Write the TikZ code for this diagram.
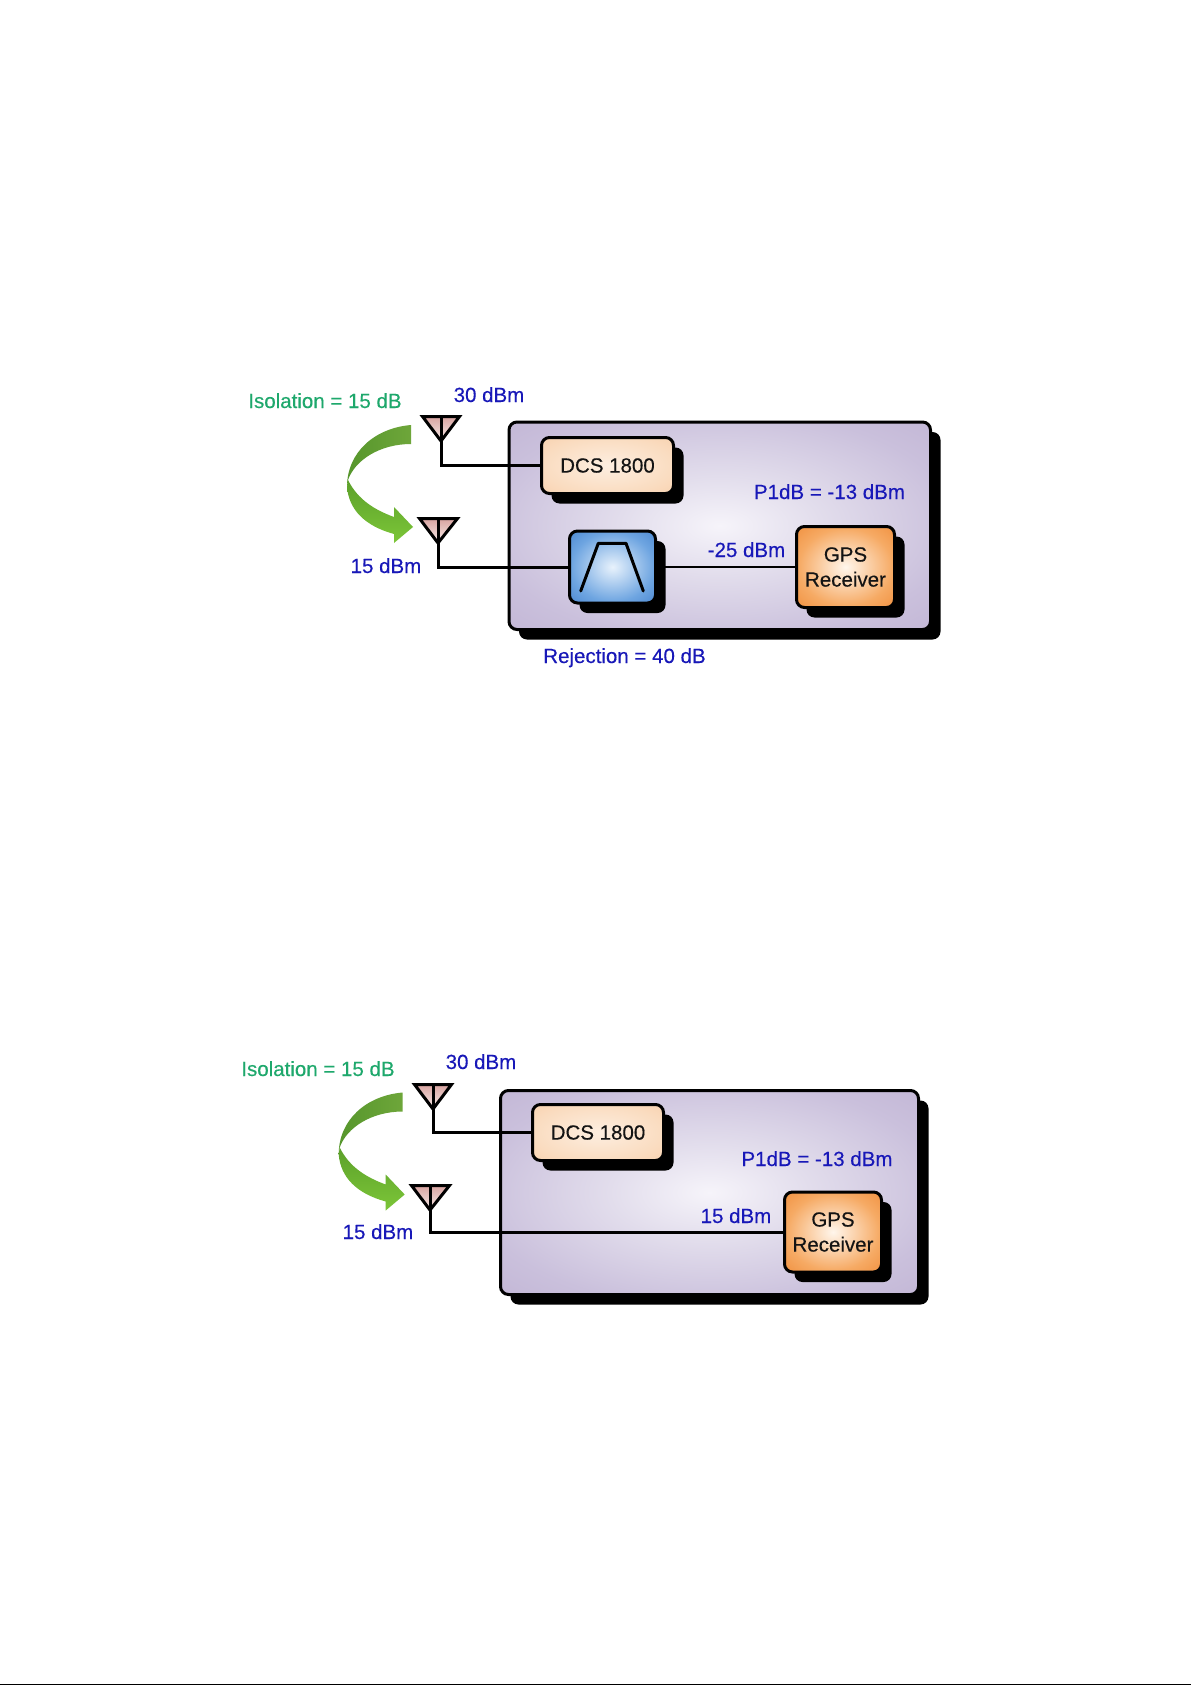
\documentclass[tikz,border=0pt]{standalone}
\usepackage{fontspec}
\setmainfont{Liberation Sans}
\newfontfamily\diagramfont[RawFeature={embolden=0.3}]{Liberation Sans}
\usetikzlibrary{shadows}
\definecolor{labelblue}{RGB}{24,24,184}
\definecolor{isogreen}{RGB}{30,168,108}
\definecolor{inkblack}{RGB}{20,20,20}
\definecolor{lilac0}{RGB}{246,244,250}
\definecolor{lilac1}{RGB}{226,221,236}
\definecolor{lilac2}{RGB}{202,192,220}
\definecolor{lilac3}{RGB}{188,174,208}
\definecolor{peach0}{RGB}{253,238,224}
\definecolor{peach1}{RGB}{250,220,192}
\definecolor{peach2}{RGB}{247,198,156}
\definecolor{orange0}{RGB}{255,246,236}
\definecolor{orange1}{RGB}{246,170,100}
\definecolor{orange2}{RGB}{236,124,34}
\definecolor{blue0}{RGB}{232,242,252}
\definecolor{blue1}{RGB}{110,165,225}
\definecolor{blue2}{RGB}{48,112,196}
\definecolor{antTop}{RGB}{216,164,160}
\definecolor{antBottom}{RGB}{248,236,234}
\definecolor{arrowDarkA}{RGB}{86,150,44}
\definecolor{arrowDarkB}{RGB}{110,166,58}
\definecolor{arrowLightA}{RGB}{92,160,42}
\definecolor{arrowLightB}{RGB}{124,198,56}
\pgfdeclareradialshading{lilacglow}{\pgfpointorigin}{color(0bp)=(lilac0);color(12bp)=(lilac1);color(28bp)=(lilac2);color(44bp)=(lilac3);color(75bp)=(lilac3)}
\pgfdeclareradialshading{peachglow}{\pgfpointorigin}{color(0bp)=(peach0);color(25bp)=(peach1);color(50bp)=(peach2);color(75bp)=(peach2)}
\pgfdeclareradialshading{orangeglow}{\pgfpointorigin}{color(0bp)=(orange0);color(24bp)=(orange1);color(46bp)=(orange2);color(75bp)=(orange2)}
\pgfdeclareradialshading{blueglow}{\pgfpointorigin}{color(0bp)=(blue0);color(24bp)=(blue1);color(46bp)=(blue2);color(75bp)=(blue2)}
\tikzset{
  panelbox/.style={draw=black,line width=3pt,rounded corners=8pt,shading=lilacglow,inner sep=0pt,outer sep=0pt,
    general shadow={fill=black,shadow xshift=10pt,shadow yshift=-10pt}},
  blockbox/.style={draw=black,line width=3pt,rounded corners=8pt,inner sep=0pt,outer sep=0pt,text=inkblack,align=center,
    font=\diagramfont\fontsize{20.5}{25}\selectfont,
    general shadow={fill=black,shadow xshift=10pt,shadow yshift=-10pt}},
  bluelabel/.style={anchor=base,inner sep=0pt,text=labelblue,font=\diagramfont\fontsize{20.5}{25}\selectfont},
  greenlabel/.style={anchor=base,inner sep=0pt,text=isogreen,font=\diagramfont\fontsize{20.5}{25}\selectfont},
  wire/.style={draw=black,line width=3pt,line join=miter},
  thinwire/.style={draw=black,line width=2.4pt},
  antennaface/.style={draw=black,line width=3pt,line join=miter,top color=antTop,bottom color=antBottom},
  antennamast/.style={draw=black,line width=3pt},
  passcurve/.style={draw=black,line width=3pt,line cap=round,line join=round},
}
% #1 prefix, #2 left x, #3 top y, #4 right x, #5 apex x, #6 apex y
\newcommand{\antennaglyph}[6]{%
  \coordinate (#1top) at (#5,#3);
  \coordinate (#1apex) at (#5,#6);
  \draw[antennaface] (#2,#3) -- (#4,#3) -- (#5,#6) -- cycle;
  \draw[antennamast] (#1top) -- (#1apex);
}
% curved isolation arrow, shifted by #1,#2
\newcommand{\isoarrow}[2]{%
  \begin{scope}[shift={(#1,#2)}]
    \shade[left color=arrowDarkA,right color=arrowDarkB]
      (411,425) .. controls (375,428) and (347,452) .. (347,487)
      -- (348,480) .. controls (355,460) and (380,444) .. (411,444) -- cycle;
    \shade[top color=arrowLightA,bottom color=arrowLightB]
      (348,480) -- (347,487) .. controls (349,510) and (365,526) .. (394,534)
      -- (394,543) -- (413,527) -- (394,507) -- (394,517)
      .. controls (375,510) and (358,500) .. (348,480) -- cycle;
  \end{scope}
}
\begin{document}
\begin{tikzpicture}[x=1pt,y=-1pt]
  \useasboundingbox (0,0) rectangle (1191,1685);
  \fill[white] (0,0) rectangle (1191,1685);
  \fill[black] (0,1683.5) rectangle (1191,1685);

  % ---------- upper diagram ----------
  \node[panelbox,minimum width=421.5pt,minimum height=207.5pt] (panelA) at (719.75,525.75) {};
  \node[blockbox,shading=peachglow,minimum width=132pt,minimum height=56pt] (dcsA) at (607.5,465.5) {DCS 1800};
  \node[blockbox,shading=blueglow,minimum width=86pt,minimum height=72pt] (filterA) at (612.5,567) {};
  \node[blockbox,shading=orangeglow,minimum width=98pt,minimum height=81pt] (gpsA) at (845.5,567) {GPS\\Receiver};
  \coordinate (passaL) at (580.7,591);
  \coordinate (passaT) at (598.3,543.3);
  \coordinate (passaU) at (626,543.3);
  \coordinate (passaR) at (643.3,591);
  \draw[passcurve] (passaL) -- (passaT) -- (passaU) -- (passaR);
  \antennaglyph{antA}{422.5}{416.5}{459.5}{441}{441}
  \antennaglyph{antB}{419.5}{518.5}{457.5}{438}{543}
  \draw[wire] (antAapex) |- (dcsA.west);
  \draw[wire] (antBapex) |- (filterA.west);
  \draw[thinwire] (filterA.east) -- (filterA.east -| gpsA.west);
  \isoarrow{0}{0}
  \node[greenlabel] (isoA) at (325,408) {Isolation = 15 dB};
  \node[bluelabel] (txA) at (489,402) {30 dBm};
  \node[bluelabel] (rxA) at (386,573) {15 dBm};
  \node[bluelabel] (rejA) at (624.5,663) {Rejection = 40 dB};
  \node[bluelabel] (p1A) at (829.5,499) {P1dB = -13 dBm};
  \node[bluelabel] (lvlA) at (746.5,557) {-25 dBm};

  % ---------- lower diagram ----------
  \node[panelbox,minimum width=418pt,minimum height=204pt] (panelB) at (709.5,1192.5) {};
  \node[blockbox,shading=peachglow,minimum width=131pt,minimum height=56pt] (dcsB) at (598,1132.5) {DCS 1800};
  \node[blockbox,shading=orangeglow,minimum width=97pt,minimum height=80pt] (gpsB) at (833,1232) {GPS\\Receiver};
  \antennaglyph{antC}{414.5}{1084.5}{451.5}{433}{1109}
  \antennaglyph{antD}{411.5}{1185.5}{449.5}{430}{1210}
  \draw[wire] (antCapex) |- (dcsB.west);
  \draw[wire] (antDapex) |- (gpsB.west);
  \isoarrow{-8.3}{667.5}
  \node[greenlabel] (isoB) at (318,1076) {Isolation = 15 dB};
  \node[bluelabel] (txB) at (481,1069) {30 dBm};
  \node[bluelabel] (rxB) at (378,1239) {15 dBm};
  \node[bluelabel] (p1B) at (817,1166) {P1dB = -13 dBm};
  \node[bluelabel] (lvlB) at (736,1223) {15 dBm};
\end{tikzpicture}
\end{document}
